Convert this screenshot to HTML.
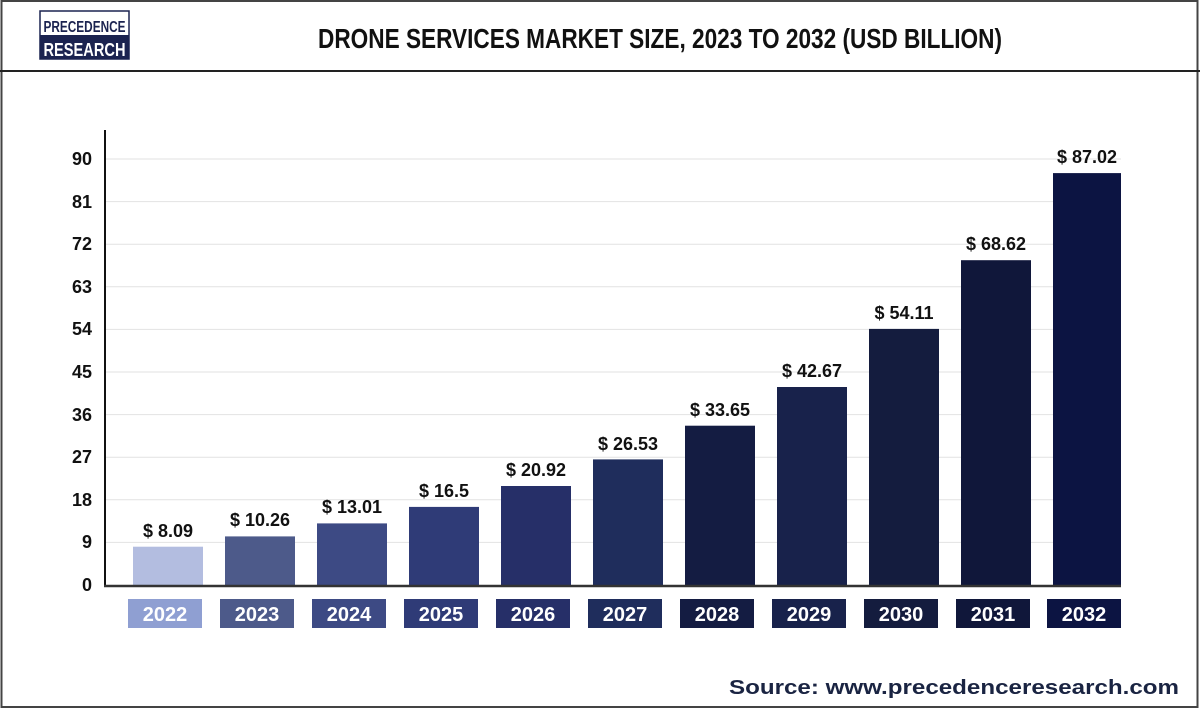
<!DOCTYPE html>
<html><head><meta charset="utf-8"><style>
body{margin:0;background:#fff;}
svg{display:block;}
text{font-family:"Liberation Sans Narrow","Liberation Sans",sans-serif;font-weight:bold;}
</style></head><body>
<svg width="1200" height="710" viewBox="0 0 1200 710" xmlns="http://www.w3.org/2000/svg">
<rect x="0" y="0" width="1200" height="710" fill="#fff"/>
<rect x="1.5" y="1" width="1196" height="706" fill="none" stroke="#444" stroke-width="2"/>
<line x1="0" y1="71" x2="1200" y2="71" stroke="#222" stroke-width="2"/>
<!-- logo -->
<rect x="40" y="11" width="89" height="48" fill="#fff" stroke="#1b2350" stroke-width="1.5"/>
<rect x="40" y="35" width="89" height="24" fill="#1b2350"/>
<text x="84.5" y="32" font-size="16" text-anchor="middle" fill="#1b2350" textLength="82" lengthAdjust="spacingAndGlyphs">PRECEDENCE</text>
<text x="84.5" y="56" font-size="18" text-anchor="middle" fill="#fff" textLength="82" lengthAdjust="spacingAndGlyphs">RESEARCH</text>
<text x="660" y="48" font-size="28" text-anchor="middle" fill="#111" textLength="684" lengthAdjust="spacingAndGlyphs">DRONE SERVICES MARKET SIZE, 2023 TO 2032 (USD BILLION)</text>
<!-- grid -->
<g stroke="#e2e2e2" stroke-width="1">
<line x1="106" y1="159" x2="1121" y2="159"/><line x1="106" y1="201.6" x2="1121" y2="201.6"/>
<line x1="106" y1="244.2" x2="1121" y2="244.2"/><line x1="106" y1="286.8" x2="1121" y2="286.8"/>
<line x1="106" y1="329.4" x2="1121" y2="329.4"/><line x1="106" y1="372" x2="1121" y2="372"/>
<line x1="106" y1="414.6" x2="1121" y2="414.6"/><line x1="106" y1="457.2" x2="1121" y2="457.2"/>
<line x1="106" y1="499.8" x2="1121" y2="499.8"/><line x1="106" y1="542.4" x2="1121" y2="542.4"/>
</g>
<g font-size="18" fill="#111" text-anchor="end">
<text x="92" y="165">90</text><text x="92" y="208">81</text><text x="92" y="250">72</text>
<text x="92" y="293">63</text><text x="92" y="335">54</text><text x="92" y="378">45</text>
<text x="92" y="421">36</text><text x="92" y="463">27</text><text x="92" y="506">18</text>
<text x="92" y="548">9</text><text x="92" y="591">0</text>
</g>
<g>
<rect x="133" y="546.7" width="70" height="38.3" fill="#b3bde0"/>
<rect x="225" y="536.4" width="70" height="48.6" fill="#4d5a8a"/>
<rect x="317" y="523.4" width="70" height="61.6" fill="#3d4a84"/>
<rect x="409" y="506.9" width="70" height="78.1" fill="#2f3b77"/>
<rect x="501" y="486" width="70" height="99" fill="#262f68"/>
<rect x="593" y="459.4" width="70" height="125.6" fill="#1f2d5c"/>
<rect x="685" y="425.7" width="70" height="159.3" fill="#141c42"/>
<rect x="777" y="387" width="70" height="198" fill="#18224b"/>
<rect x="869" y="328.9" width="70" height="256.1" fill="#141c3e"/>
<rect x="961" y="260.2" width="70" height="324.8" fill="#10173a"/>
<rect x="1053" y="173.1" width="68" height="411.9" fill="#0c1442"/>
</g>
<line x1="105" y1="130" x2="105" y2="586" stroke="#111" stroke-width="2"/>
<line x1="104" y1="586" x2="1121" y2="586" stroke="#333" stroke-width="2.5"/>
<g font-size="18" fill="#111" text-anchor="middle">
<text x="168" y="537">$ 8.09</text><text x="260" y="526">$ 10.26</text><text x="352" y="513">$ 13.01</text>
<text x="444" y="497">$ 16.5</text><text x="536" y="476">$ 20.92</text><text x="628" y="450">$ 26.53</text>
<text x="720" y="416">$ 33.65</text><text x="812" y="377">$ 42.67</text><text x="904" y="319">$ 54.11</text>
<text x="996" y="250">$ 68.62</text><text x="1087" y="163">$ 87.02</text>
</g>
<g>
<rect x="128" y="599" width="74" height="29" fill="#8f9fd2"/>
<rect x="220" y="599" width="74" height="29" fill="#4d5a8a"/>
<rect x="312" y="599" width="74" height="29" fill="#3d4a84"/>
<rect x="404" y="599" width="74" height="29" fill="#2f3b77"/>
<rect x="496" y="599" width="74" height="29" fill="#262f68"/>
<rect x="588" y="599" width="74" height="29" fill="#1f2d5c"/>
<rect x="680" y="599" width="74" height="29" fill="#141c42"/>
<rect x="772" y="599" width="74" height="29" fill="#18224b"/>
<rect x="864" y="599" width="74" height="29" fill="#141c3e"/>
<rect x="956" y="599" width="74" height="29" fill="#10173a"/>
<rect x="1047" y="599" width="74" height="29" fill="#0c1442"/>
</g>
<g font-size="20" fill="#fff" text-anchor="middle">
<text x="165" y="621">2022</text><text x="257" y="621">2023</text><text x="349" y="621">2024</text>
<text x="441" y="621">2025</text><text x="533" y="621">2026</text><text x="625" y="621">2027</text>
<text x="717" y="621">2028</text><text x="809" y="621">2029</text><text x="901" y="621">2030</text>
<text x="993" y="621">2031</text><text x="1084" y="621">2032</text>
</g>
<text x="1179" y="694" font-size="20" text-anchor="end" fill="#1a2442" style="font-family:'Liberation Sans',sans-serif" textLength="450" lengthAdjust="spacingAndGlyphs">Source: www.precedenceresearch.com</text>
</svg>
</body></html>
